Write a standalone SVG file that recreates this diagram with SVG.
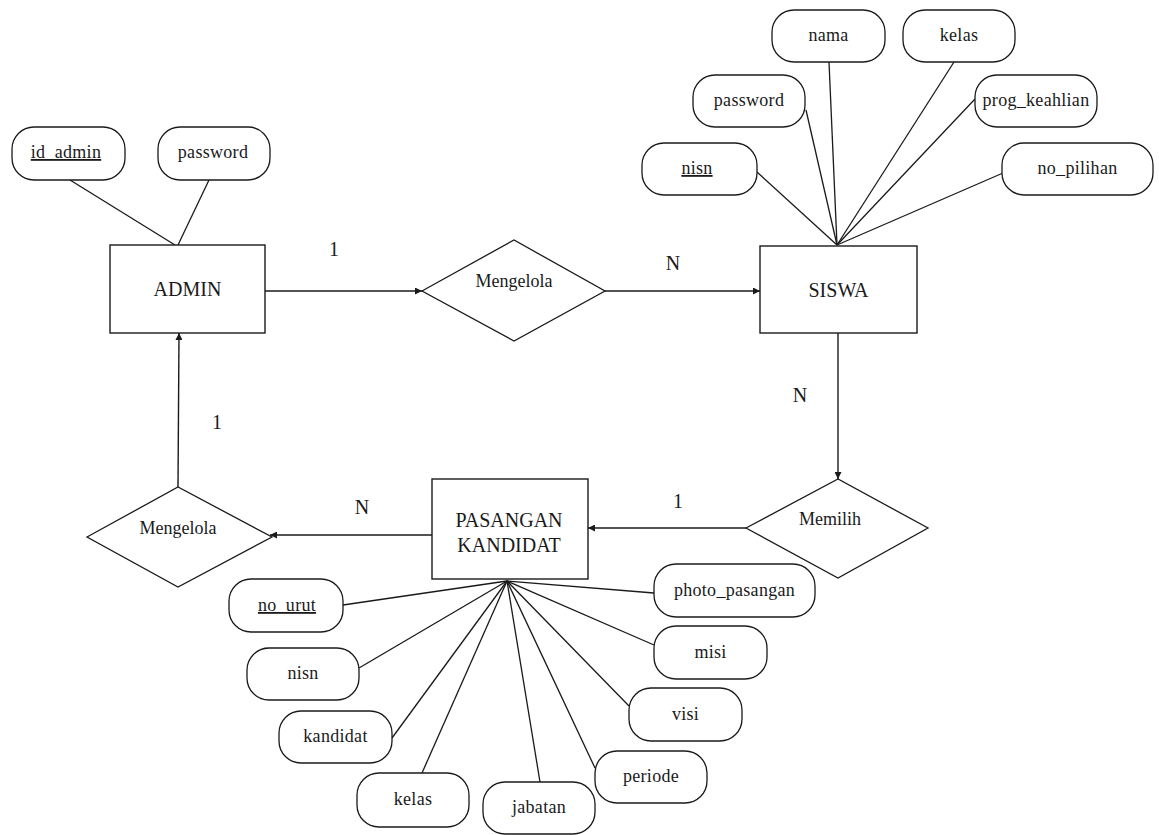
<svg xmlns="http://www.w3.org/2000/svg" width="1159" height="835" viewBox="0 0 1159 835">
<style>
.ent{fill:#fff;stroke:#1a1a1a;stroke-width:1.4}
.rel{fill:#fff;stroke:#1a1a1a;stroke-width:1.3}
.att{fill:#fff;stroke:#1a1a1a;stroke-width:1.3}
.ln{stroke:#1a1a1a;stroke-width:1.3;fill:none}
.arr{stroke:#1a1a1a;stroke-width:1.4;fill:none;marker-end:url(#ah)}
text{font-family:"Liberation Serif","Times New Roman",serif;fill:#1a1a1a;text-anchor:middle}
.et{font-size:20px}
.rt{font-size:18px}
.at{font-size:18px;letter-spacing:0.3px}
.ct{font-size:20px}
.u{text-decoration:underline}
</style>
<defs>
<marker id="ah" viewBox="0 0 10 10" refX="10" refY="5" markerWidth="9" markerHeight="7" markerUnits="userSpaceOnUse" orient="auto">
<path d="M0,0 L10,5 L0,10 z" fill="#1a1a1a"/>
</marker>
</defs>
<g id="connectors">
<line class="arr" x1="265" y1="291" x2="422" y2="291"/>
<line class="arr" x1="605" y1="291" x2="760" y2="291"/>
<line class="arr" x1="838" y1="333" x2="838" y2="479"/>
<line class="arr" x1="746" y1="528" x2="588" y2="528"/>
<line class="arr" x1="432" y1="535" x2="270" y2="535"/>
<line class="arr" x1="178" y1="487" x2="179" y2="333"/>
<line class="ln" x1="70" y1="180" x2="175" y2="245"/>
<line class="ln" x1="209" y1="180" x2="178" y2="245"/>
<line class="ln" x1="757" y1="172" x2="837" y2="245"/>
<line class="ln" x1="806" y1="110" x2="837" y2="245"/>
<line class="ln" x1="829" y1="62" x2="837" y2="245"/>
<line class="ln" x1="954" y1="62" x2="837" y2="245"/>
<line class="ln" x1="975" y1="99" x2="837" y2="245"/>
<line class="ln" x1="1003" y1="173" x2="837" y2="245"/>
<line class="ln" x1="343" y1="605" x2="507" y2="581"/>
<line class="ln" x1="359" y1="668" x2="507" y2="581"/>
<line class="ln" x1="392" y1="738" x2="507" y2="581"/>
<line class="ln" x1="422" y1="773" x2="507" y2="581"/>
<line class="ln" x1="540" y1="782" x2="507" y2="581"/>
<line class="ln" x1="595" y1="768" x2="507" y2="581"/>
<line class="ln" x1="629" y1="706" x2="507" y2="581"/>
<line class="ln" x1="654" y1="645" x2="507" y2="581"/>
<line class="ln" x1="654" y1="593" x2="507" y2="581"/>
<text class="ct" x="334" y="256">1</text>
<text class="ct" x="673" y="270">N</text>
<text class="ct" x="800" y="402">N</text>
<text class="ct" x="678" y="508">1</text>
<text class="ct" x="362" y="514">N</text>
<text class="ct" x="217" y="429">1</text>
</g>
<g id="admin"><rect class="ent" x="110" y="245" width="155" height="88"/><text class="et" x="187.5" y="296">ADMIN</text></g>
<g id="siswa"><rect class="ent" x="760" y="246" width="157" height="87"/><text class="et" x="838.5" y="297">SISWA</text></g>
<g id="pasangan_kandidat"><rect class="ent" x="432" y="479" width="156" height="100"/><text class="et" x="509" y="527">PASANGAN</text><text class="et" x="509" y="552">KANDIDAT</text></g>
<g id="mengelola1"><polygon class="rel" points="422,291 514,240 605,291 514,341"/><text class="rt" x="514" y="287">Mengelola</text></g>
<g id="memilih"><polygon class="rel" points="746,528 838,479 928,528 838,578"/><text class="rt" x="830" y="525">Memilih</text></g>
<g id="mengelola2"><polygon class="rel" points="87,537 178,487 272,537 178,587"/><text class="rt" x="178" y="534">Mengelola</text></g>
<g id="attr_id_admin"><rect class="att" x="12" y="127" width="113" height="53" rx="22"/><text class="at u" x="66" y="158">id_admin</text></g>
<g id="attr_password_admin"><rect class="att" x="158" y="127" width="112" height="53" rx="22"/><text class="at" x="213" y="158">password</text></g>
<g id="attr_nama"><rect class="att" x="772" y="10" width="113" height="52" rx="22"/><text class="at" x="828.5" y="41">nama</text></g>
<g id="attr_kelas_siswa"><rect class="att" x="903" y="10" width="112" height="52" rx="22"/><text class="at" x="959" y="41">kelas</text></g>
<g id="attr_password_siswa"><rect class="att" x="693" y="75" width="112" height="52" rx="22"/><text class="at" x="749" y="106">password</text></g>
<g id="attr_prog_keahlian"><rect class="att" x="975" y="75" width="122" height="52" rx="22"/><text class="at" x="1036" y="106">prog_keahlian</text></g>
<g id="attr_nisn_siswa"><rect class="att" x="642" y="143" width="115" height="52" rx="22"/><text class="at u" x="697" y="174">nisn</text></g>
<g id="attr_no_pilihan"><rect class="att" x="1002" y="143" width="151" height="52" rx="22"/><text class="at" x="1077.5" y="174">no_pilihan</text></g>
<g id="attr_no_urut"><rect class="att" x="229" y="579" width="114" height="53" rx="22"/><text class="at u" x="287" y="611">no_urut</text></g>
<g id="attr_nisn_pk"><rect class="att" x="247" y="648" width="112" height="52" rx="22"/><text class="at" x="303" y="679">nisn</text></g>
<g id="attr_kandidat"><rect class="att" x="279" y="711" width="113" height="52" rx="22"/><text class="at" x="335.5" y="742">kandidat</text></g>
<g id="attr_kelas_pk"><rect class="att" x="357" y="773" width="112" height="54" rx="22"/><text class="at" x="413" y="805">kelas</text></g>
<g id="attr_jabatan"><rect class="att" x="483" y="782" width="112" height="52" rx="22"/><text class="at" x="539" y="813">jabatan</text></g>
<g id="attr_periode"><rect class="att" x="595" y="751" width="112" height="52" rx="22"/><text class="at" x="651" y="782">periode</text></g>
<g id="attr_visi"><rect class="att" x="629" y="688" width="113" height="53" rx="22"/><text class="at" x="685.5" y="720">visi</text></g>
<g id="attr_misi"><rect class="att" x="654" y="626" width="113" height="53" rx="22"/><text class="at" x="710.5" y="658">misi</text></g>
<g id="attr_photo_pasangan"><rect class="att" x="654" y="564" width="161" height="53" rx="22"/><text class="at" x="734.5" y="596">photo_pasangan</text></g>
</svg>
